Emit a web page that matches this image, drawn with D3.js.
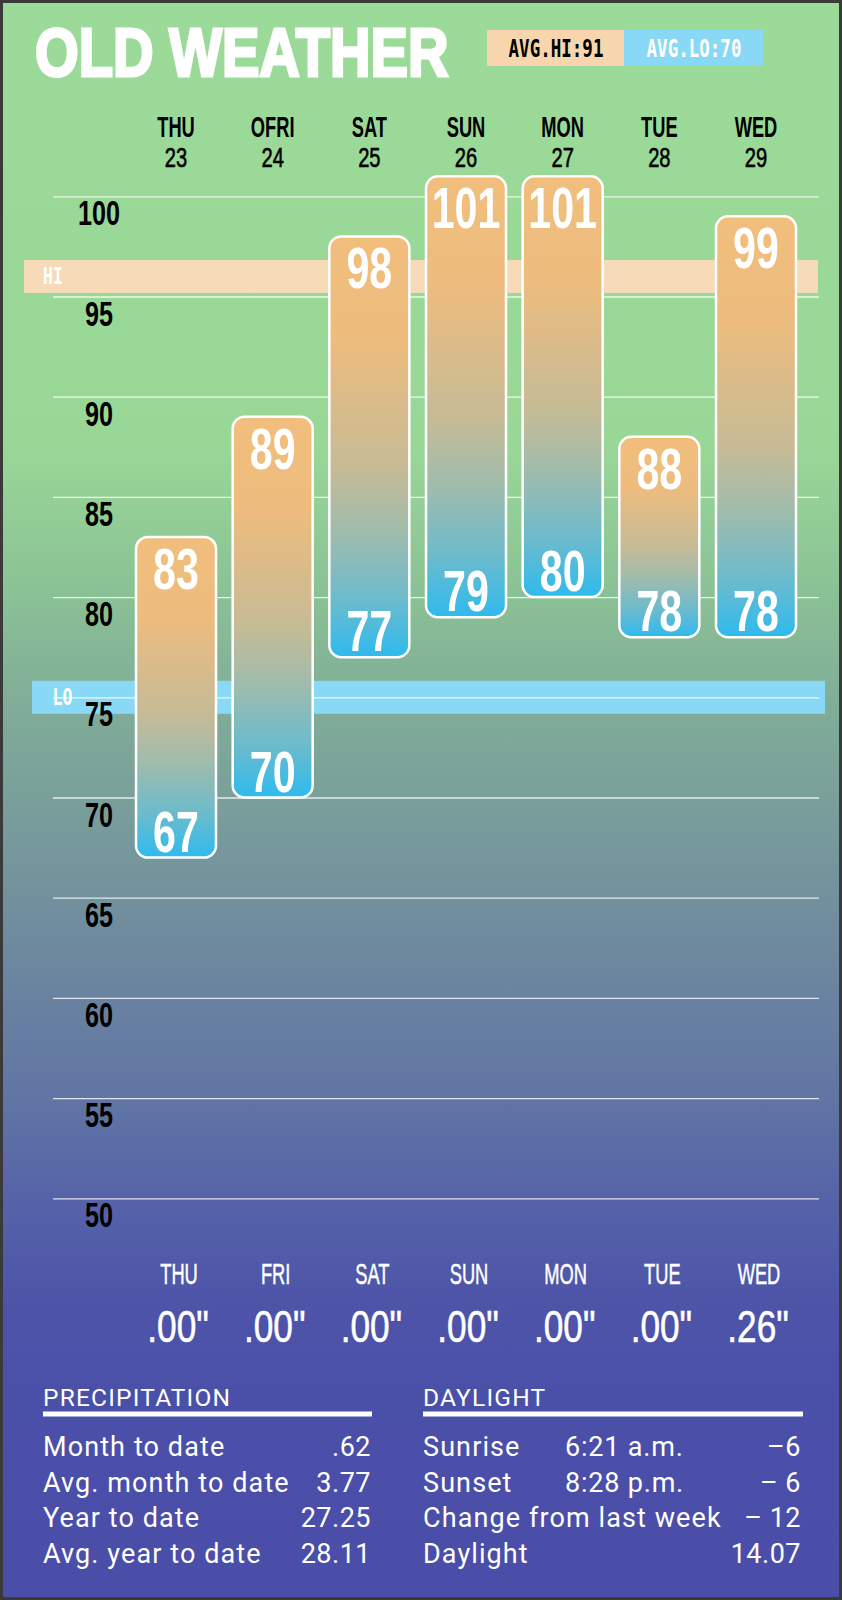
<!DOCTYPE html>
<html>
<head>
<meta charset="utf-8">
<script src="https://cdn.jsdelivr.net/npm/d3@7"></script>
<style>
  body { margin: 0; background: #fff; }
  svg { display: block; }
</style>
</head>
<body>
<script>
// weekly weather card: hi/lo range bars + precipitation / daylight tables

const days = ["THU", "FRI", "SAT", "SUN", "MON", "TUE", "WED"];
const topDays = ["THU", "OFRI", "SAT", "SUN", "MON", "TUE", "WED"]; // as printed on top
const dates = ["23", "24", "25", "26", "27", "28", "29"];
const highs = [83, 89, 98, 101, 101, 88, 99];
const lows = [67, 70, 77, 79, 80, 78, 78];
const rain = [".00\"", ".00\"", ".00\"", ".00\"", ".00\"", ".00\"", ".26\""];
const yTicks = [50, 55, 60, 65, 70, 75, 80, 85, 90, 95, 100];
const avgHi = 91, avgLo = 70;
const hiBand = 96, loBand = 75;

const precipRows = [
    ["Month to date", ".62"],
    ["Avg. month to date", "3.77"],
    ["Year to date", "27.25"],
    ["Avg. year to date", "28.11"]
];
const daylightRows = [
    ["Sunrise", "6:21 a.m.", "–6"],
    ["Sunset", "8:28 p.m.", "– 6"],
    ["Change from last week", "", "– 12"],
    ["Daylight", "", "14.07"]
];

const W = 842, H = 1600;
const cond = "'Liberation Sans', Arial, sans-serif";   // squeezed with sx
const mono = "'DejaVu Sans Mono', monospace";
const plain = "Roboto, 'Liberation Sans', sans-serif";

const svg = d3.select("body").append("svg")
    .attr("width", W)
    .attr("height", H);

const defs = svg.append("defs");

// background gradient, green to indigo
const bg = defs.append("linearGradient")
    .attr("id", "bg").attr("x1", 0).attr("y1", 0).attr("x2", 0).attr("y2", 1);
[[0, "#9BDA98"], [0.28, "#99D797"], [0.36, "#8CC495"], [0.44, "#80AD98"],
 [0.53, "#76989C"], [0.62, "#6A83A0"], [0.69, "#6074A4"], [0.75, "#5663A8"],
 [0.81, "#4E55A8"], [0.88, "#4A4FA8"], [1, "#4A4EA8"]].forEach(s => {
    bg.append("stop").attr("offset", s[0]).attr("stop-color", s[1]);
});

// bar gradient, orange top to blue bottom
const bar = defs.append("linearGradient")
    .attr("id", "bar").attr("x1", 0).attr("y1", 0).attr("x2", 0).attr("y2", 1);
[[0, "#F1BE7C"], [0.25, "#EDBC7E"], [0.55, "#C6BB96"], [0.7, "#A0BCAC"],
 [0.86, "#6DBBCC"], [1, "#2FBAEE"]].forEach(s => {
    bar.append("stop").attr("offset", s[0]).attr("stop-color", s[1]);
});

svg.append("rect")
    .attr("x", 1.5).attr("y", 1.5)
    .attr("width", W - 3).attr("height", H - 3)
    .attr("fill", "url(#bg)")
    .attr("stroke", "#3a3a3a")
    .attr("stroke-width", 3);

// text helper, sx squeezes the glyphs horizontally
function txt(g, x, y, s, o) {
    return g.append("text")
        .attr("transform", `translate(${x},${y}) scale(${o.sx || 1},1)`)
        .attr("text-anchor", o.anchor || "middle")
        .style("font-family", o.font || cond)
        .style("font-size", o.size + "px")
        .style("font-weight", o.weight || "normal")
        .style("letter-spacing", (o.ls || 0) + "px")
        .attr("fill", o.fill || "#000")
        .attr("stroke", o.stroke || "none")
        .attr("stroke-width", o.sw || 0)
        .text(s);
}

// scales
const y = d3.scaleLinear().domain([50, 100]).range([1198.3, 196.3]);
const x = d3.scalePoint().domain(d3.range(days.length)).range([176, 756]);
const barW = 80;

// title + averages
txt(svg, 35, 76, "OLD WEATHER", {size: 68, weight: "bold", fill: "#fff", anchor: "start",
    sx: 0.825, stroke: "#fff", sw: 3});

svg.append("rect").attr("x", 487).attr("y", 30).attr("width", 137).attr("height", 36)
    .attr("fill", "#F7D6AE");
svg.append("rect").attr("x", 624).attr("y", 30).attr("width", 139).attr("height", 36)
    .attr("fill", "#89D8F6");
txt(svg, 556, 57, "AVG.HI:" + avgHi, {size: 24, weight: "bold", font: mono, sx: 0.73});
txt(svg, 694, 57, "AVG.LO:" + avgLo, {size: 24, weight: "bold", font: mono, sx: 0.73, fill: "#fff"});

// day headers
topDays.forEach((d, i) => {
    txt(svg, x(i), 137, d, {size: 30, weight: "bold", sx: 0.61});
    txt(svg, x(i), 167, dates[i], {size: 28, sx: 0.72, stroke: "#000", sw: 0.6});
});

// hi / lo reference bands
svg.append("rect")
    .attr("x", 24).attr("width", 794)
    .attr("y", y(hiBand) - 16.5).attr("height", 33)
    .attr("fill", "#F7DAB8");
svg.append("rect")
    .attr("x", 32).attr("width", 793)
    .attr("y", y(loBand) - 16.5).attr("height", 33)
    .attr("fill", "#89D9F6");
txt(svg, 43, y(hiBand) + 7.5, "HI", {size: 23, font: mono, weight: "bold", sx: 0.72, fill: "#fff", anchor: "start"});
txt(svg, 52.5, y(loBand) + 8, "LO", {size: 23, font: mono, weight: "bold", sx: 0.72, fill: "#fff", anchor: "start"});

// grid lines from an axis
const grid = svg.append("g")
    .attr("transform", "translate(53,0)")
    .call(d3.axisRight(y).tickValues(yTicks).tickSize(766).tickFormat(""));
grid.select(".domain").remove();
grid.selectAll(".tick line")
    .attr("stroke", "#fff")
    .attr("stroke-opacity", 0.8)
    .attr("stroke-width", 1.3);

// tick labels
const tl = svg.append("g");
yTicks.forEach(t => {
    txt(tl, 99, y(t) + 29, t, {size: 36, weight: "bold", sx: 0.7});
});

// range bars
const bars = svg.append("g")
    .selectAll("g")
    .data(days.map((d, i) => ({i: i, hi: highs[i], lo: lows[i]})))
    .join("g");

bars.append("rect")
    .attr("x", d => x(d.i) - barW / 2)
    .attr("width", barW)
    .attr("y", d => y(d.hi))
    .attr("height", d => y(d.lo) - y(d.hi))
    .attr("rx", 12)
    .attr("fill", "url(#bar)")
    .attr("stroke", "#fff")
    .attr("stroke-width", 2.5);

bars.each(function (d) {
    const g = d3.select(this);
    txt(g, x(d.i), y(d.hi) + 52, d.hi, {size: 58, weight: "bold", fill: "#fff", sx: 0.71});
    txt(g, x(d.i), y(d.lo) - 6, d.lo, {size: 58, weight: "bold", fill: "#fff", sx: 0.71});
});

// rain per day
days.forEach((d, i) => {
    txt(svg, x(i) + 3, 1283.5, d, {size: 30, fill: "#fff", sx: 0.61, stroke: "#fff", sw: 0.5});
    txt(svg, x(i) + 2, 1341.5, rain[i], {size: 44, fill: "#fff", sx: 0.8, stroke: "#fff", sw: 0.6});
});

// tables
function header(x0, x1, s) {
    txt(svg, x0, 1405.5, s, {size: 24.5, font: plain, fill: "#fff", anchor: "start", ls: 1.2});
    svg.append("rect").attr("x", x0).attr("y", 1411.5)
        .attr("width", x1 - x0).attr("height", 5).attr("fill", "#fff");
}
header(43, 372, "PRECIPITATION");
header(423, 803, "DAYLIGHT");

const rowY = d3.scalePoint().domain(d3.range(4)).range([1456, 1563]);

precipRows.forEach((r, i) => {
    txt(svg, 43, rowY(i), r[0], {size: 27, font: plain, fill: "#fff", anchor: "start", ls: 1.1});
    txt(svg, 371, rowY(i), r[1], {size: 27, font: plain, fill: "#fff", anchor: "end", ls: 0.5});
});
daylightRows.forEach((r, i) => {
    txt(svg, 423, rowY(i), r[0], {size: 27, font: plain, fill: "#fff", anchor: "start", ls: 1.1});
    txt(svg, 565, rowY(i), r[1], {size: 27, font: plain, fill: "#fff", anchor: "start", ls: 0.8});
    txt(svg, 801, rowY(i), r[2], {size: 27, font: plain, fill: "#fff", anchor: "end", ls: 0.5});
});
</script>
</body>
</html>
